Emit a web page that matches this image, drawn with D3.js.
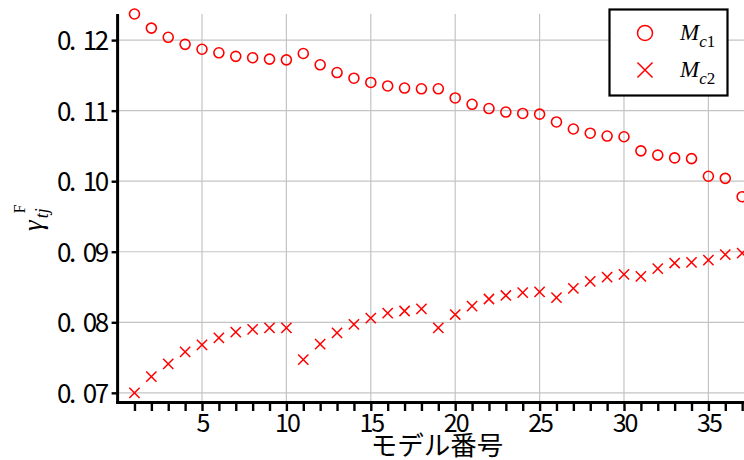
<!DOCTYPE html>
<html>
<head>
<meta charset="utf-8">
<script src="https://cdn.jsdelivr.net/npm/d3@7"></script>
<style>
  html, body { margin: 0; padding: 0; background: #fff; }
  svg { display: block; }
</style>
</head>
<body>
<svg id="chart" width="744" height="460"></svg>
<script>
// Model numbers and the two coefficient series
const models = d3.range(1, 38);
const mc1 = [0.1237, 0.1217, 0.1204, 0.1194, 0.1187, 0.1182, 0.1177, 0.1175, 0.1173, 0.1172,
             0.1181, 0.1165, 0.1154, 0.1146, 0.1140, 0.1135, 0.1132, 0.1131, 0.1131, 0.1118,
             0.1109, 0.1103, 0.1098, 0.1096, 0.1095, 0.1084, 0.1074, 0.1068, 0.1064, 0.1063,
             0.1043, 0.1037, 0.1033, 0.1032, 0.1007, 0.1004, 0.0978];
const mc2 = [0.0700, 0.0723, 0.0741, 0.0758, 0.0768, 0.0778, 0.0786, 0.0790, 0.0792, 0.0792,
             0.0747, 0.0769, 0.0785, 0.0797, 0.0806, 0.0813, 0.0816, 0.0819, 0.0792, 0.0811,
             0.0823, 0.0833, 0.0838, 0.0842, 0.0843, 0.0835, 0.0848, 0.0858, 0.0864, 0.0868,
             0.0865, 0.0876, 0.0884, 0.0885, 0.0888, 0.0896, 0.0898];
const yTicks = [0.07, 0.08, 0.09, 0.10, 0.11, 0.12];
const xTicks = d3.range(1, 39);
const xGrid = [5, 10, 15, 20, 25, 30, 35];
const xLabelTicks = [5, 10, 15, 20, 25, 30, 35];

const svg = d3.select("#chart");
const plotLeft = 117.6, plotTop = 14, plotBottom = 402;

const x = d3.scaleLinear().domain([0, 38]).range([plotLeft, plotLeft + 38 * 16.88]);
const y = d3.scaleLinear().domain([0.0687, 0.1237]).range([plotBottom, plotTop]);

const tickFont = "'Noto Sans CJK JP', 'Noto Sans', sans-serif";
const red = "#ff0000";

// grid
const grid = svg.append("g").attr("stroke", "#c4c4c4").attr("stroke-width", 1.2);
grid.selectAll("line.h").data(yTicks).join("line").attr("class", "h")
  .attr("x1", plotLeft).attr("x2", 760)
  .attr("y1", d => y(d)).attr("y2", d => y(d));
grid.selectAll("line.v").data(xGrid).join("line").attr("class", "v")
  .attr("x1", d => x(d)).attr("x2", d => x(d))
  .attr("y1", plotTop).attr("y2", plotBottom);

// data markers
svg.append("g").selectAll("circle").data(models).join("circle")
  .attr("cx", d => x(d)).attr("cy", (d, i) => y(mc1[i]))
  .attr("r", 5).attr("fill", "none").attr("stroke", red).attr("stroke-width", 1.6);

const cross = d3.symbol().type(d3.symbolTimes).size(70);
svg.append("g").selectAll("path").data(models).join("path")
  .attr("transform", (d, i) => `translate(${x(d)},${y(mc2[i])})`)
  .attr("d", cross)
  .attr("fill", "none").attr("stroke", red).attr("stroke-width", 1.5);

// x axis
const xAxis = svg.append("g").attr("transform", `translate(0,${plotBottom})`)
  .call(d3.axisBottom(x).tickValues(xTicks).tickSizeInner(9).tickSizeOuter(0).tickPadding(4)
    .tickFormat(d => xLabelTicks.includes(d) ? String(d) : ""));
xAxis.select(".domain").attr("stroke", "#000").attr("stroke-width", 3)
  .attr("d", `M${plotLeft - 1.5},0.5H760`);
xAxis.selectAll(".tick line").attr("stroke", "#000").attr("stroke-width", 2.4);
xAxis.selectAll(".tick text")
  .attr("font-family", tickFont).attr("font-size", 25).attr("fill", "#000")
  .attr("letter-spacing", -2).attr("x", 0)
  .attr("y", 30).attr("dy", 0);

// y axis
const yFmt = d3.format(".2f");
const yAxis = svg.append("g").attr("transform", `translate(${plotLeft},0)`)
  .call(d3.axisLeft(y).tickValues(yTicks).tickSizeInner(6).tickSizeOuter(0).tickPadding(5)
    .tickFormat(yFmt));
yAxis.select(".domain").attr("stroke", "#000").attr("stroke-width", 3)
  .attr("d", `M0,${plotTop}V${plotBottom + 1.5}`);
yAxis.selectAll(".tick line").attr("stroke", "#000").attr("stroke-width", 2.4);
yAxis.selectAll(".tick text")
  .attr("font-family", tickFont).attr("font-size", 26).attr("fill", "#000")
  .attr("letter-spacing", -2.5)
  .attr("x", -11).attr("dy", "0.36em")
  .each(function (d) {
    const s = yFmt(d);
    const t = d3.select(this).text("");
    t.append("tspan").text(s.slice(0, 2));
    t.append("tspan").attr("dx", 9).text(s.slice(2));
  });

// axis titles
svg.append("text")
  .attr("x", 437).attr("y", 455)
  .attr("text-anchor", "middle")
  .attr("font-family", tickFont).attr("font-size", 26.5).attr("fill", "#000")
  .text("モデル番号");

const yTitle = svg.append("text")
  .attr("transform", "translate(42,231) rotate(-90)")
  .attr("font-family", "'Liberation Serif', 'Times New Roman', serif")
  .attr("fill", "#000");
yTitle.append("tspan").attr("font-size", 27).attr("font-style", "italic").text("γ");
yTitle.append("tspan").attr("font-size", 18).attr("font-style", "italic")
  .attr("dy", 6).attr("dx", 2).text("tj");
yTitle.append("tspan").attr("font-size", 16)
  .attr("dy", -23).attr("dx", -5).text("F");

// legend
const lg = svg.append("g");
lg.append("rect").attr("x", 609.5).attr("y", 9.5).attr("width", 118).attr("height", 86)
  .attr("fill", "#fff").attr("stroke", "#000").attr("stroke-width", 2.2);
const legendItems = [
  { key: "c1", cy: 33, sym: "circle" },
  { key: "c2", cy: 70, sym: "cross" }
];
legendItems.forEach(it => {
  if (it.sym === "circle") {
    lg.append("circle").attr("cx", 645).attr("cy", it.cy).attr("r", 7.5)
      .attr("fill", "none").attr("stroke", red).attr("stroke-width", 1.5);
  } else {
    lg.append("path").attr("transform", `translate(645,${it.cy})`)
      .attr("d", d3.symbol().type(d3.symbolTimes).size(150))
      .attr("fill", "none").attr("stroke", red).attr("stroke-width", 1.5);
  }
  const t = lg.append("text").attr("x", 680).attr("y", it.cy + 7)
    .attr("font-family", "'Liberation Serif', 'Times New Roman', serif")
    .attr("font-style", "italic").attr("fill", "#000");
  t.append("tspan").attr("font-size", 23).text("M");
  t.append("tspan").attr("font-size", 17).attr("dy", 7).text(it.key[0]);
  t.append("tspan").attr("font-size", 17).attr("font-style", "normal").text(it.key[1]);
});
</script>
</body>
</html>
